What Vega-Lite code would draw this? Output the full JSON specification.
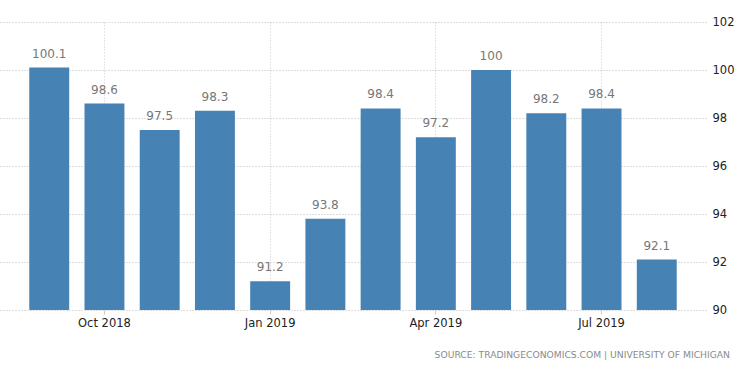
{
  "$schema": "https://vega.github.io/schema/vega-lite/v6.json",
  "width": 706,
  "height": 288,
  "autosize": "none",
  "padding": {"left": 0, "top": 22, "right": 44, "bottom": 63},
  "background": "white",
  "config": {"view": {"stroke": null}, "font": "DejaVu Sans"},
  "title": {
    "text": "SOURCE: TRADINGECONOMICS.COM | UNIVERSITY OF MICHIGAN",
    "orient": "bottom",
    "anchor": "end",
    "fontSize": 9.2,
    "fontWeight": "normal",
    "color": "#8a8a8a",
    "offset": 22,
    "dx": -4
  },
  "data": {
    "values": [
      {"month": "Sep 2018", "value": 100.1},
      {"month": "Oct 2018", "value": 98.6},
      {"month": "Nov 2018", "value": 97.5},
      {"month": "Dec 2018", "value": 98.3},
      {"month": "Jan 2019", "value": 91.2},
      {"month": "Feb 2019", "value": 93.8},
      {"month": "Mar 2019", "value": 98.4},
      {"month": "Apr 2019", "value": 97.2},
      {"month": "May 2019", "value": 100},
      {"month": "Jun 2019", "value": 98.2},
      {"month": "Jul 2019", "value": 98.4},
      {"month": "Aug 2019", "value": 92.1}
    ]
  },
  "encoding": {
    "x": {
      "field": "month",
      "type": "ordinal",
      "sort": null,
      "scale": {"paddingInner": 0.277, "paddingOuter": 0.53},
      "axis": {
        "title": null,
        "values": ["Oct 2018", "Jan 2019", "Apr 2019", "Jul 2019"],
        "labelAngle": 0,
        "labelFontSize": 11.5,
        "labelColor": "#222",
        "labelPadding": 3,
        "domain": false,
        "ticks": true,
        "tickSize": 4,
        "tickColor": "#ccc",
        "grid": true,
        "gridColor": "#c8c8c8",
        "gridDash": [1, 2],
        "bandPosition": 0.5
      }
    },
    "y": {
      "field": "value",
      "type": "quantitative",
      "scale": {"domain": [90, 102], "zero": false, "nice": false},
      "axis": {
        "title": null,
        "orient": "right",
        "values": [90, 92, 94, 96, 98, 100, 102],
        "labelFontSize": 11.5,
        "labelColor": "#222",
        "labelPadding": 6,
        "domain": false,
        "ticks": false,
        "grid": true,
        "gridColor": "#bdbdbd",
        "gridDash": [1, 2]
      }
    }
  },
  "layer": [
    {"mark": {"type": "bar", "color": "#4682b4", "clip": true}},
    {
      "mark": {"type": "text", "dy": -14, "fontSize": 12, "color": "#777"},
      "encoding": {"text": {"field": "value", "type": "quantitative"}}
    }
  ]
}
